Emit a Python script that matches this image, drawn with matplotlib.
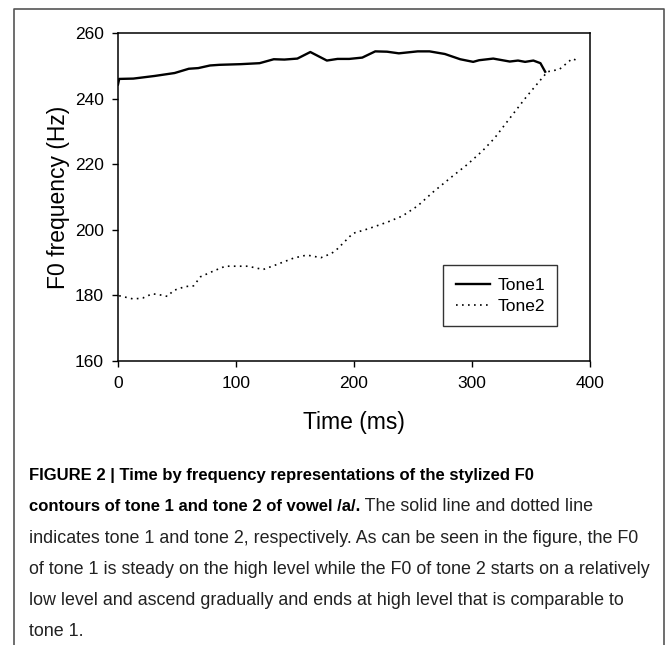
import matplotlib
matplotlib.use("Agg")
import matplotlib.pyplot as plt
from matplotlib.lines import Line2D

plt.rcParams['font.family'] = ['Liberation Sans', 'DejaVu Sans']

# Tone 1 (solid) - time in ms, F0 in Hz
tone1_t = [0, 1, 13, 31, 48, 60, 68, 78, 86, 104, 120, 132, 141, 152, 163,
           177, 186, 196, 207, 218, 228, 238, 254, 264, 277, 290, 301, 306,
           318, 332, 339, 345, 352, 358, 362]
tone1_f = [244.3, 246.0, 246.1, 246.9, 247.8, 249.1, 249.3, 250.1, 250.3, 250.5,
           250.8, 252.0, 251.9, 252.2, 254.2, 251.6, 252.1, 252.1, 252.5, 254.4,
           254.3, 253.8, 254.4, 254.4, 253.6, 252.0, 251.2, 251.7, 252.2, 251.3,
           251.6, 251.2, 251.6, 250.8, 248.2]

# Tone 2 (dotted)
tone2_t = [1, 13, 21, 29, 35, 42, 47, 57, 64, 70, 82, 91, 110, 123, 133, 149,
           160, 172, 181, 186, 199, 212, 228, 241, 254, 267, 283, 296, 309, 319,
           332, 346, 359, 364, 374, 385, 391]
tone2_f = [179.9, 178.9, 179.2, 180.5, 180.2, 179.7, 181.5, 182.7, 182.9, 185.7,
           187.6, 188.9, 188.9, 187.9, 189.2, 191.4, 192.3, 191.5, 192.8, 194.2,
           198.9, 200.3, 202.3, 204.2, 207.3, 211.5, 216.2, 219.9, 224.1, 227.9,
           234.0, 240.5, 246.1, 248.2, 248.9, 252.2, 251.3]

caption_bold1 = "FIGURE 2 | Time by frequency representations of the stylized F0"
caption_bold2 = "contours of tone 1 and tone 2 of vowel /a/."
caption_rest2 = " The solid line and dotted line"
caption_lines = [
    "indicates tone 1 and tone 2, respectively. As can be seen in the figure, the F0",
    "of tone 1 is steady on the high level while the F0 of tone 2 starts on a relatively",
    "low level and ascend gradually and ends at high level that is comparable to",
    "tone 1.",
]

W, H = 669, 645
fig = plt.figure(figsize=(W / 100, H / 100), dpi=100)
ax = fig.add_axes([118 / W, 1 - 361 / H, 472 / W, 328 / H])

ax.plot(tone1_t, tone1_f, color='black', lw=1.7, label='Tone1')
ax.plot(tone2_t, tone2_f, color='black', lw=1.2, linestyle=(0, (1, 2.6)), label='Tone2')

ax.set_xlim(0, 400)
ax.set_ylim(160, 260)
ax.set_xticks([0, 100, 200, 300, 400])
ax.set_yticks([160, 180, 200, 220, 240, 260])
ax.tick_params(direction='out', length=4, width=1, labelsize=12.5, pad=6, colors='black')
ax.tick_params(axis='x', pad=7)
for s in ax.spines.values():
    s.set_linewidth(1.1)

ax.set_xlabel("Time (ms)", fontsize=16.5, labelpad=14)
ax.set_ylabel("F0 frequency (Hz)", fontsize=16.5, labelpad=4)

leg = ax.legend(loc='lower right', bbox_to_anchor=(557 / W, 1 - 326 / H),
                bbox_transform=fig.transFigure, fontsize=12.5, frameon=True,
                fancybox=False, edgecolor='black', handlelength=2.0,
                borderpad=0.7, labelspacing=0.35, handletextpad=0.4,
                borderaxespad=0)
leg.get_frame().set_linewidth(1.0)

# outer frame of the figure panel (open at the bottom)
fx0, fx1, fy = 14 / W, 664 / W, 1 - 9 / H
fig.add_artist(Line2D([fx0, fx0, fx1, fx1], [0, fy, fy, 0], color='#555555', lw=1.2,
                      transform=fig.transFigure))

# caption
cx = 29 / W
base = [480, 511, 543, 574, 605, 636]
fig.text(cx, 1 - base[0] / H, caption_bold1, fontsize=12.0, fontweight='bold', va='baseline')
b2 = fig.text(cx, 1 - base[1] / H, caption_bold2, fontsize=12.0, fontweight='bold', va='baseline')
fig.canvas.draw()
ext = b2.get_window_extent()
fig.text(ext.x1 / W, 1 - base[1] / H, caption_rest2, fontsize=12.9, va='baseline', color='#222222')
for i, line in enumerate(caption_lines):
    fig.text(cx, 1 - base[i + 2] / H, line, fontsize=12.9, va='baseline', color='#222222')

fig.savefig('out.png', dpi=100)
